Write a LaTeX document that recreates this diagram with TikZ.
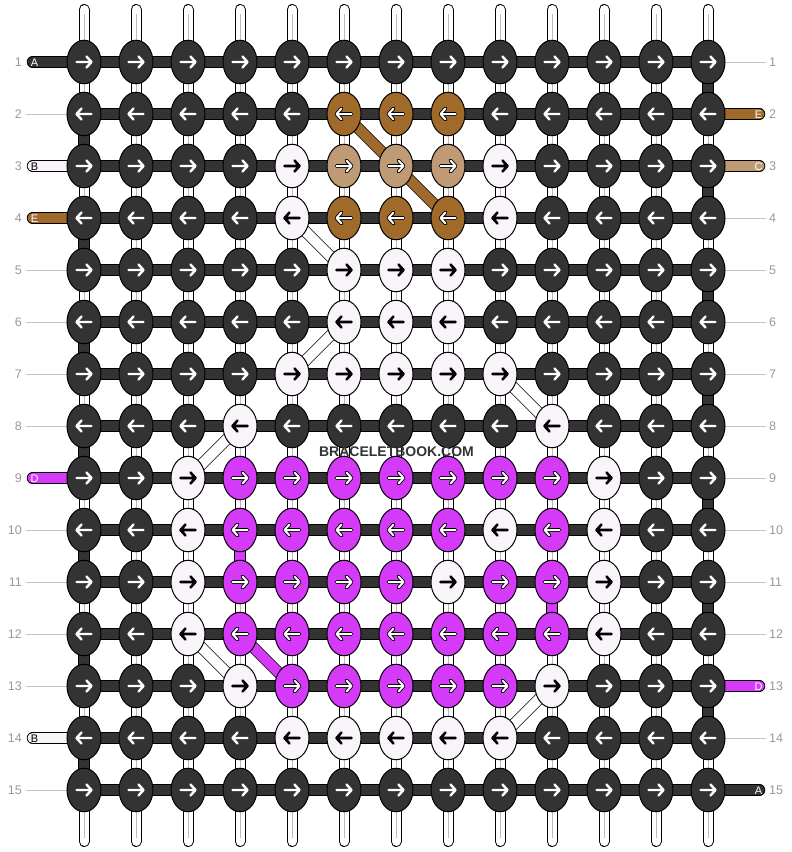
\documentclass[tikz,border=0pt]{standalone}
\usepackage{fontspec}
\setmainfont{Liberation Sans}
\usetikzlibrary{shapes.geometric}
\definecolor{cK}{HTML}{333333}
\definecolor{cW}{HTML}{F8F4FA}
\definecolor{cB}{HTML}{A06A2A}
\definecolor{cT}{HTML}{BE9B74}
\definecolor{cM}{HTML}{D43AF8}
\definecolor{numgray}{HTML}{999999}
\definecolor{linegray}{HTML}{C4C4C4}
\definecolor{coregray}{HTML}{BBBBBB}
\begin{document}
\begin{tikzpicture}[x=1pt,y=-1pt,
  knot/.style={ellipse, draw=black, line width=1pt, minimum width=34pt, minimum height=43.5pt, inner sep=0pt},
  arrK/.style={draw=white, line width=2.4pt},
  arrW/.style={draw=black, line width=2.6pt},
  arrO/.style={draw=white, line width=2pt, preaction={draw=black, line width=3.8pt, line cap=round, line join=round}},
  arrB/.style={arrO}, arrT/.style={arrO}, arrM/.style={arrO},
  vstrand/.style={draw=white, line width=9pt, line cap=round, preaction={draw=black, line width=11pt, line cap=round}},
  vcore/.style={draw=coregray, line width=0.8pt},
  hbar/.style={draw=#1, line width=10.5pt, preaction={draw=black, line width=12pt}},
  diagline/.style={draw=#1, line width=10pt, preaction={draw=black, line width=11.5pt}},
  stubline/.style={draw=#1, line width=10pt, line cap=round, preaction={draw=black, line width=11.5pt, line cap=round}},
  gline/.style={draw=linegray, line width=0.8pt},
  num/.style={text=numgray, font=\fontsize{12.5}{13}\selectfont, inner sep=0pt},
  stubtext/.style={font=\fontsize{11}{11}\selectfont, inner sep=0pt},
]
\useasboundingbox (0,0) rectangle (792,852);

% grid coordinates
\foreach \r in {1,...,15}{
  \foreach \c in {1,...,13}{
    \coordinate (p-\r-\c) at ({84+52*(\c-1)},{62+52*(\r-1)});
  }
}
% vertical warp strands
\foreach \c in {1,...,13}{
  \coordinate (t-\c) at ({84+52*(\c-1)},9.5);
  \coordinate (b-\c) at ({84+52*(\c-1)},841.5);
  \draw[vstrand] (t-\c) -- (b-\c);
  \draw[vcore] ([yshift=-4pt]t-\c) -- ([yshift=4pt]b-\c);
}
% horizontal bars
\foreach \r in {1,...,15}{
  \draw[hbar=cK] (p-\r-1) -- (p-\r-13);
}
% edge turns
\foreach \r [evaluate=\r as \s using int(\r+1)] in {2,4,...,14}{
  \draw[hbar=cK] (p-\r-1) -- (p-\s-1);
}
\foreach \r [evaluate=\r as \s using int(\r+1)] in {1,3,...,13}{
  \draw[hbar=cK] (p-\r-13) -- (p-\s-13);
}
% coloured vertical links
\draw[hbar=cM] (p-10-4) -- (p-11-4);
\draw[hbar=cM] (p-11-10) -- (p-12-10);
% diagonals
\draw[diagline=cB] (p-2-6) -- (p-3-7) -- (p-4-8);
\draw[diagline=cM] (p-12-4) -- (p-13-5);
\draw[diagline=white] (p-4-5) -- (p-5-6);
\draw[diagline=white] (p-6-6) -- (p-7-5);
\draw[diagline=white] (p-7-9) -- (p-8-10);
\draw[diagline=white] (p-8-4) -- (p-9-3);
\draw[diagline=white] (p-12-3) -- (p-13-4);
\draw[diagline=white] (p-13-10) -- (p-14-9);

% guide lines
\foreach \r in {2,5,6,7,8,10,11,12,13,15}{
  \coordinate (gl-\r) at (26,{62+52*(\r-1)});
  \draw[gline] (gl-\r) -- (p-\r-1);
}
\foreach \r in {1,4,5,6,7,8,9,10,11,12,14}{
  \coordinate (gr-\r) at (766,{62+52*(\r-1)});
  \draw[gline] (p-\r-13) -- (gr-\r);
}
% strand stubs
\foreach \r/\k/\l/\tc in {1/K/A/white, 3/W/B/black, 4/B/E/white, 9/M/D/white, 14/W/B/black}{
  \coordinate (sl-\r) at (32.5,{62+52*(\r-1)});
  \draw[stubline=c\k] (sl-\r) -- (p-\r-1);
  \node[stubtext, text=\tc] (ls-\r) at (34.5,{62.5+52*(\r-1)}) {\l};
}
\foreach \r/\k/\l/\tc in {2/B/E/white, 3/T/C/white, 13/M/D/white, 15/K/A/white}{
  \coordinate (sr-\r) at (759.5,{62+52*(\r-1)});
  \draw[stubline=c\k] (p-\r-13) -- (sr-\r);
  \node[stubtext, text=\tc] (rs-\r) at (758.5,{62.5+52*(\r-1)}) {\l};
}

% knots
\foreach \r/\codes in {
 1/{K,K,K,K,K,K,K,K,K,K,K,K,K},
 2/{K,K,K,K,K,B,B,B,K,K,K,K,K},
 3/{K,K,K,K,W,T,T,T,W,K,K,K,K},
 4/{K,K,K,K,W,B,B,B,W,K,K,K,K},
 5/{K,K,K,K,K,W,W,W,K,K,K,K,K},
 6/{K,K,K,K,K,W,W,W,K,K,K,K,K},
 7/{K,K,K,K,W,W,W,W,W,K,K,K,K},
 8/{K,K,K,W,K,K,K,K,K,W,K,K,K},
 9/{K,K,W,M,M,M,M,M,M,M,W,K,K},
 10/{K,K,W,M,M,M,M,M,W,M,W,K,K},
 11/{K,K,W,M,M,M,M,W,M,M,W,K,K},
 12/{K,K,W,M,M,M,M,M,M,M,W,K,K},
 13/{K,K,K,W,M,M,M,M,M,W,K,K,K},
 14/{K,K,K,K,W,W,W,W,W,K,K,K,K},
 15/{K,K,K,K,K,K,K,K,K,K,K,K,K}}{
  \ifodd\r \def\dd{1}\else\def\dd{-1}\fi
  \foreach \k [count=\c] in \codes {
    \node[knot, fill=c\k] (k-\r-\c) at (p-\r-\c) {};
    \draw[arr\k, line cap=round, line join=round, shift={(p-\r-\c)}, xscale=\dd]
      (-7.5,0) -- (7.5,0) (2.5,-5.5) -- (7.5,0) -- (2.5,5.5);
  }
}

% row numbers
\foreach \r in {1,...,15}{
  \node[num, anchor=east] (ln-\r) at (22,{62+52*(\r-1)}) {\r};
  \node[num, anchor=west] (rn-\r) at (769,{62+52*(\r-1)}) {\r};
}

% watermark
\node[font=\bfseries\fontsize{14}{14}\selectfont, text=cK, inner sep=0pt] (wm) at (396.5,452) {BRACELETBOOK.COM};
\end{tikzpicture}
\end{document}
